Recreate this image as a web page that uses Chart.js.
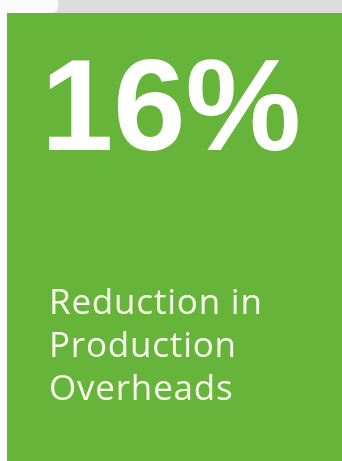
<!DOCTYPE html>
<html>
<head>
<meta charset="utf-8">
<script src="https://cdn.jsdelivr.net/npm/chart.js@4/dist/chart.umd.min.js"></script>
<style>
  html, body { margin: 0; padding: 0; background: #67b43b; overflow: hidden; }
  canvas { display: block; }
</style>
</head>
<body>
<canvas id="tile" width="342" height="461"></canvas>
<script>
// dữ liệu của ô thống kê
const statValue = [16];
const statUnit = ['%'];
const captionLines = ['Reduction in', 'Production', 'Overheads'];

// plugin vẽ nền xanh và chữ
const tilePlugin = {
    id: 'tile',
    beforeDraw(chart, args, opts) {
        const ctx = chart.ctx;
        ctx.save();
        ctx.fillStyle = '#fbfbfb';
        ctx.fillRect(0, 0, chart.width, chart.height);
        // dải xám phía trên
        ctx.fillStyle = '#dcdcdc';
        ctx.beginPath();
        ctx.moveTo(58, 0);
        ctx.quadraticCurveTo(60, 12, 52, 13);
        ctx.lineTo(chart.width, 13);
        ctx.lineTo(chart.width, 0);
        ctx.closePath();
        ctx.fill();
        ctx.fillStyle = opts.color;
        ctx.fillRect(7, 13, chart.width - 7, chart.height - 13);
        ctx.restore();
    },
    afterDraw(chart, args, opts) {
        const ctx = chart.ctx;
        ctx.save();
        ctx.textBaseline = 'alphabetic';
        ctx.fillStyle = '#ffffff';
        ctx.font = 'bold 130px "Liberation Sans"';
        ctx.fillText(statValue[0] + statUnit[0], 41, 150);
        ctx.fillStyle = '#f6fbec';
        ctx.font = '35px "Open Sans"';
        ctx.letterSpacing = '0.8px';
        captionLines.forEach((line, i) => {
            ctx.fillText(line, 49, 314 + i * 43);
        });
        ctx.restore();
    }
};

const chart = new Chart(document.getElementById('tile'), {
    type: 'bar',
    data: {
        labels: captionLines,
        datasets: [{ data: [], backgroundColor: 'transparent' }]
    },
    options: {
        responsive: false,
        animation: false,
        scales: { x: { display: false }, y: { display: false } },
        plugins: {
            legend: { display: false },
            tooltip: { enabled: false },
            tile: { color: '#67b43b' }
        }
    },
    plugins: [tilePlugin]
});
</script>
</body>
</html>
